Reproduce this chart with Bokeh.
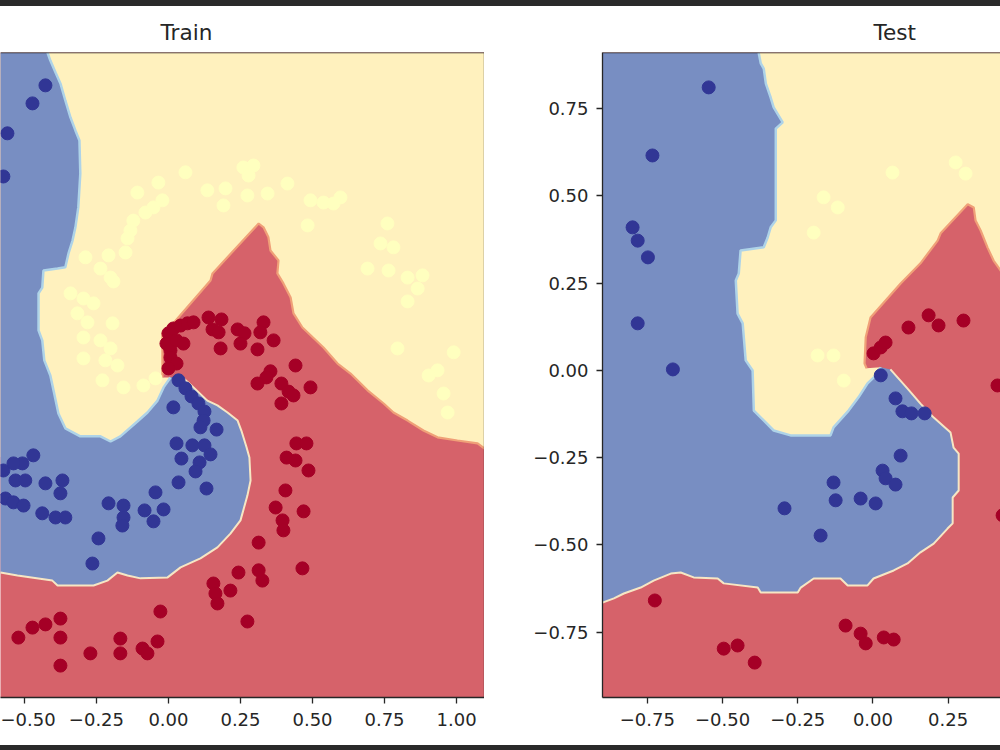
from bokeh.plotting import figure
from bokeh.models import Range1d, FixedTicker, Span, Div, Title
from bokeh.layouts import row, column
from bokeh.embed import file_html
from bokeh.resources import INLINE

# ---------------- colours (RdYlBu classes) ----------------
PT_COLORS = {"red": "#a50026", "yellow": "#ffffbf", "blue": "#313695"}
BG_RED, BG_YELLOW, BG_BLUE = "#d6626a", "#fff1be", "#788ec2"
EDGE_RY, EDGE_BY, EDGE_BR = "#f0a078", "#aed3e8", "#f6e6c4"
TEXT = "#262626"

# ---------------- axis extents ----------------
train_frame_x = (-0.944, 1.097)     # full axes extent
train_view_x = (-0.583, 1.097)      # part visible in the crop
train_y = (-0.997, 1.006)
test_frame_x = (-0.899, 1.054)
test_view_x = (-0.899, 0.424)
test_y = (-0.937, 0.911)

train_xticks = [-0.5, -0.25, 0.0, 0.25, 0.5, 0.75, 1.0]
train_xlabels = ["\u22120.50", "\u22120.25", "0.00", "0.25", "0.50", "0.75", "1.00"]
test_xticks = [-0.75, -0.5, -0.25, 0.0, 0.25]
test_xlabels = ["\u22120.75", "\u22120.50", "\u22120.25", "0.00", "0.25"]
test_yticks = [-0.75, -0.5, -0.25, 0.0, 0.25, 0.5, 0.75]
test_ylabels = ["\u22120.75", "\u22120.50", "\u22120.25", "0.00", "0.25", "0.50", "0.75"]

# ---------------- train points ----------------
train_red_x = [0.000, 0.017, -0.007, 0.007, 0.007, 0.028, 0.000, 0.028, 0.052, 0.042, 0.066, 0.087,
               0.139, 0.184, 0.153, 0.174, 0.181, 0.240, 0.264, 0.250, 0.330, 0.319, 0.365, 0.309,
               0.441, 0.354, 0.340, 0.309, 0.392, 0.417, 0.434, 0.493, 0.392,
               0.444, 0.479, 0.410, 0.441, 0.486, 0.406, 0.372, 0.396, 0.399, 0.469, 0.313, 0.313, 0.326, 0.465,
               0.243, 0.156, 0.215, 0.163, 0.170, 0.274, -0.028, -0.038, -0.167, -0.167, -0.090, -0.073,
               -0.271, -0.375, -0.427, -0.472, -0.521, -0.375, -0.375]
train_red_y = [0.134, 0.149, 0.102, 0.081, 0.059, 0.040, 0.025, 0.112, 0.102, 0.158, 0.165, 0.168,
               0.183, 0.177, 0.146, 0.137, 0.087, 0.146, 0.134, 0.102, 0.168, 0.137, 0.112, 0.084,
               0.034, 0.016, -0.003, -0.022, -0.022, -0.047, -0.059, -0.034, -0.084,
               -0.208, -0.208, -0.252, -0.261, -0.292, -0.354, -0.407, -0.447, -0.478, -0.419, -0.516, -0.602, -0.634, -0.596,
               -0.609, -0.643, -0.665, -0.674, -0.705, -0.761, -0.730, -0.823, -0.814, -0.860, -0.845, -0.860,
               -0.860, -0.752, -0.770, -0.780, -0.811, -0.811, -0.898]

train_yellow_x = [0.260, 0.295, 0.278, 0.059, -0.035, -0.108, 0.135, 0.198, 0.191, 0.274, 0.344, 0.413,
                  0.493, 0.538, 0.597, 0.573, 0.483,
                  -0.021, -0.052, -0.080, -0.122, -0.132, -0.142, -0.149, -0.208, -0.288, -0.236, -0.201,
                  -0.191, -0.340, -0.295, -0.260, -0.316, -0.281, -0.194, -0.295, -0.236, -0.201, -0.295,
                  -0.219, -0.177, -0.229, -0.156, -0.087, -0.045,
                  0.760, 0.736, 0.781, 0.691, 0.764, 0.830, 0.882, 0.865, 0.830, 0.795, 0.990, 0.934,
                  0.903, 0.955, 0.969]
train_yellow_y = [0.649, 0.655, 0.624, 0.634, 0.602, 0.571, 0.578, 0.584, 0.531, 0.562, 0.568, 0.599,
                  0.547, 0.540, 0.556, 0.537, 0.469,
                  0.547, 0.525, 0.509, 0.484, 0.453, 0.429, 0.385, 0.376, 0.370, 0.335, 0.307,
                  0.295, 0.258, 0.242, 0.227, 0.196, 0.168, 0.165, 0.121, 0.112, 0.087, 0.056,
                  0.050, 0.034, -0.012, -0.034, -0.028, -0.006,
                  0.475, 0.413, 0.401, 0.335, 0.329, 0.307, 0.314, 0.273, 0.233, 0.087, 0.075, 0.019,
                  0.003, -0.053, -0.112]

train_blue_x = [0.035, 0.059, 0.080, 0.104, 0.125, 0.122, 0.017, 0.111, 0.167, 0.028,
                0.083, 0.125, 0.146, 0.045, 0.108, 0.094, 0.035, 0.132, -0.045, -0.017,
                -0.083, -0.052, -0.156, -0.208, -0.156, -0.160, -0.243, -0.264, -0.368, -0.375,
                -0.427, -0.438, -0.392, -0.358, -0.469, -0.507, -0.538, -0.573, -0.531, -0.497,
                -0.566, -0.538, -0.503, -0.427, -0.472, -0.559, -0.573]
train_blue_y = [-0.012, -0.037, -0.062, -0.084, -0.109, -0.137, -0.096, -0.158, -0.165, -0.208,
                -0.214, -0.214, -0.242, -0.255, -0.267, -0.295, -0.329, -0.348, -0.360, -0.413,
                -0.416, -0.450, -0.401, -0.394, -0.438, -0.463, -0.503, -0.581, -0.323, -0.363,
                -0.332, -0.425, -0.438, -0.438, -0.245, -0.270, -0.270, -0.292, -0.323, -0.323,
                -0.379, -0.391, -0.401, 0.904, 0.848, 0.755, 0.621]

# ---------------- train decision regions (boundaries) ----------------
# blue / yellow boundary, from top edge down to the spiral centre
train_by_x = [-0.420, -0.410, -0.392, -0.375, -0.358, -0.340, -0.323, -0.309, -0.306, -0.313, -0.323,
              -0.333, -0.347, -0.358, -0.385, -0.434, -0.438, -0.451, -0.451, -0.438, -0.431, -0.410,
              -0.399, -0.382, -0.358, -0.306, -0.236, -0.201, -0.167, -0.108, -0.073, -0.038, -0.017, 0.007]
train_by_y = [1.006, 0.981, 0.944, 0.910, 0.857, 0.804, 0.764, 0.733, 0.630, 0.525, 0.463,
              0.422, 0.382, 0.339, 0.335, 0.329, 0.276, 0.258, 0.143, 0.112, 0.050, 0.003,
              -0.043, -0.115, -0.161, -0.186, -0.186, -0.202, -0.186, -0.140, -0.112, -0.075, -0.034, -0.003]
# blue / red boundary, from the centre round to the left edge
train_br_x = [0.042, 0.087, 0.135, 0.170, 0.205, 0.240, 0.253, 0.271, 0.281, 0.285, 0.274, 0.250,
              0.215, 0.170, 0.111, 0.042, -0.003, -0.097, -0.142, -0.177, -0.212, -0.260, -0.385,
              -0.403, -0.524, -0.583, -0.944]
train_br_y = [0.003, -0.034, -0.075, -0.090, -0.112, -0.137, -0.168, -0.220, -0.252, -0.323, -0.370, -0.447,
              -0.488, -0.531, -0.565, -0.593, -0.624, -0.627, -0.618, -0.609, -0.634, -0.649, -0.649,
              -0.634, -0.618, -0.609, -0.609]
# yellow / red boundary, from the centre up and out to the right edge
train_yr_x = [-0.021, -0.021, 0.017, 0.146, 0.153, 0.313, 0.330, 0.347, 0.354, 0.382, 0.378, 0.399,
              0.424, 0.434, 0.465, 0.538, 0.587, 0.632, 0.691, 0.747, 0.781, 0.830, 0.885, 0.934,
              1.003, 1.073, 1.097]
train_yr_y = [-0.003, 0.134, 0.165, 0.298, 0.320, 0.475, 0.463, 0.432, 0.391, 0.360, 0.320, 0.289,
              0.245, 0.196, 0.152, 0.090, 0.040, 0.009, -0.043, -0.084, -0.112, -0.137, -0.168, -0.189,
              -0.199, -0.208, -0.224]

# ---------------- test points ----------------
test_red_x = [-0.725, -0.496, -0.450, -0.393, -0.091, -0.041, -0.024, 0.036, 0.069,
              0.002, 0.026, 0.042, 0.118, 0.185, 0.218, 0.301, 0.414, 0.431]
test_red_y = [-0.659, -0.797, -0.788, -0.837, -0.731, -0.754, -0.782, -0.765, -0.771,
              0.049, 0.066, 0.080, 0.123, 0.158, 0.129, 0.143, -0.043, -0.415]
test_yellow_x = [0.065, 0.275, 0.308, -0.164, -0.117, -0.197, -0.184, -0.131, -0.097]
test_yellow_y = [0.567, 0.596, 0.564, 0.496, 0.467, 0.395, 0.043, 0.043, -0.029]
test_blue_x = [-0.546, -0.733, -0.799, -0.782, -0.748, -0.782, -0.665, 0.026, 0.075, 0.098, 0.128,
               0.172, 0.092, 0.032, 0.042, 0.075, -0.131, -0.124, -0.041, 0.009, -0.294, -0.174]
test_blue_y = [0.811, 0.616, 0.410, 0.372, 0.324, 0.135, 0.003, -0.014, -0.080, -0.117, -0.123,
               -0.123, -0.244, -0.287, -0.309, -0.327, -0.321, -0.372, -0.367, -0.381, -0.395, -0.473]

# ---------------- test decision regions ----------------
test_by_x = [-0.380, -0.373, -0.363, -0.356, -0.340, -0.330, -0.300, -0.323, -0.323, -0.340, -0.350,
             -0.363, -0.440, -0.446, -0.456, -0.450, -0.433, -0.423, -0.400, -0.396, -0.330, -0.274,
             -0.141, -0.131, -0.081, -0.048, -0.018, 0.016, 0.026]
test_by_y = [0.911, 0.880, 0.865, 0.822, 0.782, 0.754, 0.711, 0.693, 0.430, 0.410, 0.381,
             0.353, 0.344, 0.278, 0.258, 0.163, 0.135, 0.029, 0.000, -0.115, -0.172, -0.186,
             -0.186, -0.163, -0.115, -0.077, -0.037, -0.009, 0.009]
test_br_x = [0.058, 0.115, 0.158, 0.202, 0.258, 0.268, 0.285, 0.285, 0.265, 0.265, 0.248, 0.202,
             0.158, 0.115, 0.069, 0.002, -0.018, -0.084, -0.108, -0.197, -0.240, -0.250, -0.373,
             -0.383, -0.496, -0.516, -0.596, -0.639, -0.672, -0.729, -0.772, -0.828, -0.861, -0.899]
test_br_y = [0.003, -0.052, -0.095, -0.135, -0.178, -0.221, -0.238, -0.344, -0.364, -0.438, -0.453, -0.496,
             -0.521, -0.553, -0.573, -0.596, -0.616, -0.616, -0.596, -0.596, -0.622, -0.636, -0.636,
             -0.622, -0.610, -0.596, -0.593, -0.579, -0.582, -0.602, -0.622, -0.639, -0.653, -0.665]
test_yr_x = [-0.021, -0.028, -0.024, -0.008, 0.092, 0.158, 0.215, 0.225, 0.315, 0.335, 0.341,
             0.358, 0.381, 0.401, 0.424, 0.460]
test_yr_y = [0.006, 0.020, 0.095, 0.152, 0.249, 0.307, 0.372, 0.393, 0.476, 0.467, 0.430,
             0.401, 0.352, 0.315, 0.287, 0.220]


def style_axis(ax, ticks, labels, standoff):
    ax.ticker = FixedTicker(ticks=ticks, minor_ticks=[])
    ax.major_label_overrides = dict(zip(ticks, labels))
    ax.major_tick_in = 0
    ax.major_tick_out = 6
    ax.minor_tick_in = 0
    ax.minor_tick_out = 0
    ax.major_tick_line_color = TEXT
    ax.major_tick_line_width = 1.3
    ax.axis_line_color = TEXT
    ax.axis_line_width = 1.3
    ax.major_label_text_font = "DejaVu Sans"
    ax.major_label_text_font_size = "18px"
    ax.major_label_text_color = TEXT
    ax.major_label_standoff = standoff


def panel(width, border_left, view_x, frame_x, y_lim, show_y, title, title_offset,
          by_x, by_y, br_x, br_y, yr_x, yr_y, pts, xticks, xlabels, right_spine):
    p = figure(width=width, height=739, output_backend="svg", toolbar_location=None,
               x_range=Range1d(*view_x), y_range=Range1d(*y_lim),
               y_axis_location="left" if show_y else None,
               min_border_left=border_left, min_border_right=0,
               min_border_top=46, min_border_bottom=48, margin=0)
    p.background_fill_color = BG_RED
    p.border_fill_color = "white"
    p.outline_line_color = None
    p.grid.visible = False

    # yellow region: top-right part bounded by the red edge; the part hidden under blue is arbitrary
    yel_x = [frame_x[0], frame_x[1], frame_x[1]] + yr_x[::-1] + [by_x[-1], by_x[-1] - 0.08, frame_x[0]]
    yel_y = [y_lim[1], y_lim[1], yr_y[-1]] + yr_y[::-1] + [by_y[-1], -0.25, -0.25]
    p.patch(yel_x, yel_y, fill_color=BG_YELLOW, line_color=None)
    # blue region
    blue_x = [frame_x[0]] + by_x + br_x + [frame_x[0]]
    blue_y = [y_lim[1]] + by_y + br_y + [br_y[-1]]
    p.patch(blue_x, blue_y, fill_color=BG_BLUE, line_color=None)
    # boundary bands
    p.line(yr_x, yr_y, line_color=EDGE_RY, line_width=2.2)
    p.line(by_x, by_y, line_color=EDGE_BY, line_width=2.5)
    p.line(br_x, br_y, line_color=EDGE_BR, line_width=2.0)

    for (xs, ys, c) in pts:
        p.scatter(xs, ys, size=13, fill_color=PT_COLORS[c], line_color=PT_COLORS[c])

    style_axis(p.xaxis[0], xticks, xlabels, 9)
    if show_y:
        style_axis(p.yaxis[0], test_yticks, test_ylabels, 8)

    p.add_layout(Span(location=y_lim[1], dimension="width", line_color=TEXT, line_width=1.3))
    if right_spine:
        p.add_layout(Span(location=view_x[1], dimension="height", line_color=TEXT, line_width=1.3))

    p.add_layout(Title(text=title, align="left", offset=title_offset, standoff=15,
                       text_font="DejaVu Sans", text_font_size="21.6px",
                       text_font_style="normal", text_color=TEXT), "above")
    return p


p_train = panel(484, 0, train_view_x, train_frame_x, train_y, False, "Train", 160,
                train_by_x, train_by_y, train_br_x, train_br_y, train_yr_x, train_yr_y,
                [(train_red_x, train_red_y, "red"), (train_yellow_x, train_yellow_y, "yellow"),
                 (train_blue_x, train_blue_y, "blue")],
                train_xticks, train_xlabels, True)
p_test = panel(516, 118, test_view_x, test_frame_x, test_y, True, "Test", 271,
               test_by_x, test_by_y, test_br_x, test_br_y, test_yr_x, test_yr_y,
               [(test_red_x, test_red_y, "red"), (test_yellow_x, test_yellow_y, "yellow"),
                (test_blue_x, test_blue_y, "blue")],
               test_xticks, test_xlabels, False)

top_bar = Div(width=1000, height=6, margin=0, styles={"background-color": "#2a2a2a"})
bottom_bar = Div(width=1000, height=5, margin=0, styles={"background-color": "#2a2a2a"})
layout = column(top_bar, row(p_train, p_test, margin=0, spacing=0), bottom_bar, margin=0, spacing=0)

open("out.html", "w").write(file_html(layout, INLINE))
